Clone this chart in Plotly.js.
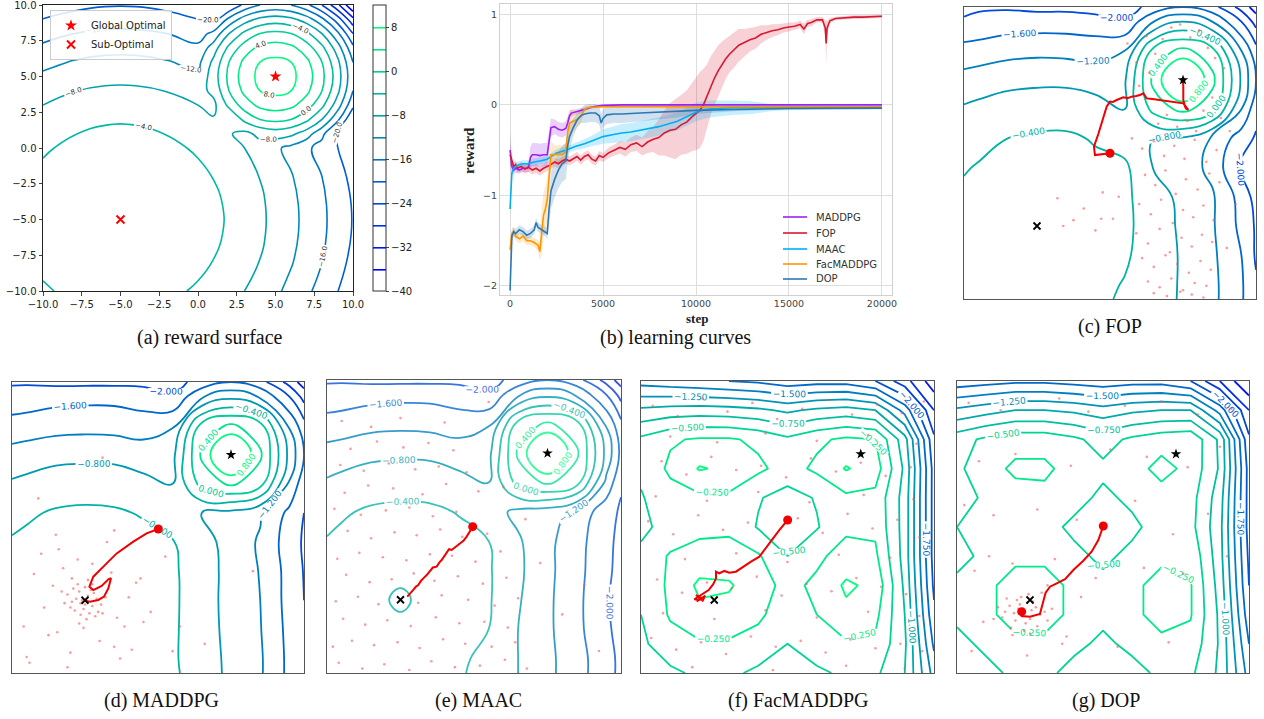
<!DOCTYPE html>
<html><head><meta charset="utf-8">
<script src="https://cdn.plot.ly/plotly-3.0.1.min.js"></script>
<style>html,body{margin:0;padding:0;background:#fff}#chart{width:1264px;height:719px}</style>
</head><body><div id="chart"></div>
<script>
// ---------------- (a) reward surface grid (rows bottom -> top) ----------------
const aGrid = [-10,-8,-6,-4,-2,0,1,2,3,4,5,6,7,8,9,10];
const aZ = [
 [-4.5,-3.1,-2.3,-2.3,-3.1,-4.5,-5.5,-6.7,-8,-9.5,-11.3,-13.1,-15.2,-17.5,-19.9,-22.5],
 [-3.1,-1.6,-0.9,-0.9,-1.6,-3.1,-4.1,-5.2,-6.6,-8.1,-9.8,-11.7,-13.8,-16,-18.5,-21.1],
 [-2.3,-0.9,-0.2,-0.2,-0.9,-2.3,-3.3,-4.5,-5.9,-7.4,-9.1,-11,-13.1,-15.3,-17.7,-20.3],
 [-2.3,-0.9,-0.2,-0.2,-0.9,-2.3,-3.3,-4.5,-5.9,-7.4,-9.1,-11,-13.1,-15.3,-17.7,-20.3],
 [-3.1,-1.6,-0.9,-0.9,-1.6,-3.1,-4.1,-5.2,-6.6,-8.1,-9.8,-11.7,-13.8,-16,-18.5,-21.1],
 [-4.5,-3.1,-2.3,-2.3,-3.1,-4.5,-5.5,-6.7,-8,-9.5,-11.3,-13.1,-15.2,-17.5,-19.9,-22.5],
 [-5.5,-4.1,-3.3,-3.3,-4.1,-5.5,-6.5,-7.7,-9,-7,-6,-7,-10,-15,-20.9,-23.5],
 [-6.7,-5.2,-4.5,-4.5,-5.2,-6.7,-7.7,-8,-3,0,1,0,-3,-8,-15,-24],
 [-8,-6.6,-5.9,-5.9,-6.6,-8,-9,-3,2,5,6,5,2,-3,-10,-19],
 [-9.5,-8.1,-7.4,-7.4,-8.1,-9.5,-7,0,5,8,9,8,5,0,-7,-16],
 [-11.3,-9.8,-9.1,-9.1,-9.8,-11.3,-6,1,6,9,10,9,6,1,-6,-15],
 [-13.1,-11.7,-11,-11,-11.7,-13.1,-7,0,5,8,9,8,5,0,-7,-16],
 [-15.2,-13.8,-13.1,-13.1,-13.8,-15.2,-10,-3,2,5,6,5,2,-3,-10,-19],
 [-17.5,-16,-15.3,-15.3,-16,-17.5,-15,-8,-3,0,1,0,-3,-8,-15,-24],
 [-19.9,-18.5,-17.7,-17.7,-18.5,-19.9,-20.9,-15,-10,-7,-6,-7,-10,-15,-22,-31],
 [-22.5,-21.1,-20.3,-20.3,-21.1,-22.5,-23.5,-24,-19,-16,-15,-16,-19,-24,-31,-40]
];
const optimaX = [5, -5];
const optimaY = [5, -5];

// ---------------- (b) learning curves ----------------
const fopStep = [0,100,200,300,400,600,800,1000,1200,1400,1600,1800,2000,2200,2400,2600,2800,3000,3200,3400,3600,3800,4000,4200,4400,4600,4800,5000,5300,5600,5900,6200,6500,6800,7100,7400,7700,8000,8300,8600,8900,9200,9500,9800,10000,10200,10400,10600,10800,11000,11200,11400,11600,11800,12000,12300,12600,12900,13200,13500,13800,14100,14400,14700,15000,15300,15600,15800,16000,16200,16500,16800,16950,17000,17050,17200,17500,18000,18500,19000,19500,20000];
const fopMean = [-0.55,-0.62,-0.68,-0.66,-0.70,-0.68,-0.71,-0.69,-0.72,-0.70,-0.73,-0.70,-0.68,-0.66,-0.63,-0.65,-0.62,-0.60,-0.62,-0.59,-0.57,-0.61,-0.57,-0.55,-0.60,-0.62,-0.56,-0.58,-0.53,-0.50,-0.47,-0.49,-0.44,-0.42,-0.46,-0.41,-0.38,-0.36,-0.31,-0.28,-0.27,-0.22,-0.19,-0.13,-0.10,-0.06,0.00,0.10,0.22,0.30,0.38,0.45,0.51,0.56,0.60,0.66,0.69,0.72,0.74,0.78,0.80,0.82,0.83,0.85,0.86,0.87,0.89,0.84,0.90,0.91,0.94,0.94,0.85,0.68,0.85,0.93,0.955,0.965,0.97,0.97,0.975,0.98];
const fopSd = [0.12,0.06,0.05,0.05,0.05,0.05,0.05,0.05,0.05,0.05,0.05,0.05,0.05,0.05,0.05,0.05,0.05,0.05,0.05,0.05,0.05,0.05,0.05,0.05,0.05,0.05,0.05,0.05,0.06,0.06,0.07,0.08,0.08,0.09,0.1,0.12,0.14,0.2,0.25,0.3,0.33,0.33,0.35,0.38,0.4,0.42,0.4,0.35,0.32,0.3,0.28,0.25,0.22,0.2,0.2,0.18,0.15,0.13,0.12,0.1,0.08,0.07,0.06,0.05,0.05,0.04,0.04,0.06,0.04,0.04,0.03,0.03,0.08,0.25,0.08,0.03,0.02,0.02,0.02,0.02,0.02,0.02];

const maddpgStep = [0,50,100,200,300,500,700,900,1000,1100,1200,1400,1600,1800,2000,2100,2200,2400,2600,2800,3000,3100,3200,3300,3500,3700,4000,4300,4600,5000,6000,8000,10000,12000,15000,20000];
const maddpgMean = [-0.5,-0.6,-0.68,-0.72,-0.7,-0.72,-0.7,-0.7,-0.68,-0.58,-0.55,-0.55,-0.56,-0.55,-0.55,-0.4,-0.25,-0.24,-0.27,-0.28,-0.26,-0.2,-0.12,-0.09,-0.08,-0.07,-0.05,-0.03,-0.015,-0.005,0,0,0,0,0,0];
const maddpgSd = [0.2,0.15,0.08,0.05,0.05,0.04,0.04,0.04,0.06,0.12,0.13,0.13,0.13,0.13,0.13,0.12,0.1,0.08,0.08,0.08,0.08,0.07,0.05,0.04,0.03,0.03,0.02,0.01,0.005,0,0,0,0,0,0,0];

const maacStep = [0,50,100,200,300,500,700,1000,1300,1600,2000,2500,3000,3500,4000,4500,5000,5500,6000,6500,7000,7500,8000,8500,9000,9500,10000,10500,11000,12000,13000,14000,15000,17000,20000];
const maacMean = [-1.15,-0.9,-0.75,-0.7,-0.68,-0.66,-0.65,-0.65,-0.63,-0.62,-0.6,-0.53,-0.5,-0.46,-0.43,-0.39,-0.35,-0.33,-0.31,-0.3,-0.28,-0.26,-0.24,-0.21,-0.18,-0.13,-0.08,-0.05,-0.04,-0.03,-0.03,-0.03,-0.03,-0.03,-0.03];
const maacSd = [0.05,0.05,0.04,0.04,0.04,0.04,0.04,0.04,0.04,0.04,0.04,0.04,0.04,0.04,0.05,0.06,0.08,0.09,0.1,0.1,0.1,0.1,0.1,0.1,0.1,0.1,0.1,0.1,0.09,0.08,0.07,0.04,0.03,0.02,0.02];

const facStep = [0,50,100,200,300,500,700,900,1100,1300,1500,1600,1700,1800,1900,2000,2100,2200,2400,2600,2800,3000,3100,3200,3400,3600,3800,4000,4200,4500,5000,6000,10000,15000,20000];
const facMean = [-1.6,-1.5,-1.42,-1.4,-1.45,-1.48,-1.45,-1.5,-1.5,-1.52,-1.55,-1.62,-1.4,-1.22,-1.15,-1.05,-0.8,-0.55,-0.55,-0.54,-0.55,-0.52,-0.3,-0.2,-0.18,-0.16,-0.13,-0.05,-0.03,-0.025,-0.02,-0.02,-0.02,-0.02,-0.02];
const facSd = [0.1,0.08,0.06,0.05,0.05,0.05,0.05,0.05,0.05,0.05,0.06,0.1,0.25,0.25,0.25,0.25,0.22,0.15,0.1,0.1,0.1,0.1,0.15,0.15,0.12,0.1,0.08,0.03,0.02,0.01,0.01,0.005,0.005,0.005,0.005];

const dopStep = [0,50,100,200,300,500,700,900,1100,1300,1400,1500,1700,1900,2000,2100,2200,2400,2600,2800,3000,3100,3200,3400,3600,3800,4000,4300,4600,4800,4900,5000,5200,5600,6000,7000,8000,9000,10000,12000,15000,20000];
const dopMean = [-2.05,-1.7,-1.45,-1.4,-1.42,-1.38,-1.4,-1.44,-1.42,-1.38,-1.3,-1.35,-1.38,-1.4,-1.42,-1.15,-0.95,-0.82,-0.72,-0.65,-0.62,-0.45,-0.35,-0.25,-0.17,-0.12,-0.1,-0.09,-0.09,-0.12,-0.2,-0.15,-0.11,-0.1,-0.1,-0.09,-0.08,-0.07,-0.06,-0.05,-0.04,-0.035];
const dopSd = [0.05,0.08,0.06,0.05,0.05,0.05,0.05,0.05,0.05,0.05,0.05,0.05,0.05,0.05,0.06,0.15,0.2,0.2,0.2,0.2,0.2,0.18,0.15,0.1,0.08,0.08,0.1,0.1,0.1,0.1,0.1,0.1,0.1,0.1,0.1,0.09,0.08,0.07,0.04,0.02,0.01,0.01];

const seriesNames = ['MADDPG','FOP','MAAC','FacMADDPG','DOP'];
const seriesColors = ['rgb(160,32,240)','rgb(215,25,50)','rgb(0,176,240)','rgb(255,150,0)','rgb(44,120,180)'];
const rewardTicks = [-2,-1,0,1];
const stepTicks = [0,5000,10000,15000,20000];

// ---------------- (c)-(g) learned value grids (rows top -> bottom) ----------------
const oddGrid = [-10,-9,-7,-5,-3,-1,1,3,5,7,9,10];
const evenGrid = [-10,-8,-6,-4,-2,0,2,4,6,8,10];
const cZ = [
 [-2.1,-2.05,-2.05,-2.1,-2.1,-2.15,-2.2,-1.85,-1.6,-1.85,-2.55,-3.0],
 [-1.95,-1.9,-1.82,-1.8,-1.8,-1.85,-1.95,-1.2,-0.8,-1.2,-2.0,-2.55],
 [-1.45,-1.42,-1.33,-1.3,-1.32,-1.35,-1.2,0.15,0.52,0.15,-1.2,-1.85],
 [-1.05,-1.0,-0.92,-0.88,-0.88,-0.95,-0.85,0.52,1.6,0.52,-0.85,-1.6],
 [-0.75,-0.7,-0.6,-0.58,-0.58,-0.65,-0.8,0.15,0.52,0.15,-1.2,-1.85],
 [-0.55,-0.48,-0.4,-0.35,-0.34,-0.43,-0.58,-0.8,-0.85,-1.25,-1.8,-2.05],
 [-0.42,-0.38,-0.3,-0.25,-0.25,-0.32,-0.32,-0.82,-1.0,-1.3,-2.1,-2.4],
 [-0.35,-0.32,-0.25,-0.18,-0.2,-0.26,-0.33,-0.6,-0.92,-1.15,-1.75,-2.15],
 [-0.3,-0.28,-0.2,-0.15,-0.18,-0.24,-0.32,-0.58,-0.88,-1.15,-1.7,-2.05],
 [-0.3,-0.28,-0.22,-0.18,-0.2,-0.26,-0.35,-0.58,-0.85,-1.12,-1.6,-2.05],
 [-0.32,-0.3,-0.25,-0.22,-0.24,-0.3,-0.42,-0.6,-0.85,-1.1,-1.55,-1.95],
 [-0.33,-0.31,-0.26,-0.24,-0.26,-0.32,-0.45,-0.62,-0.85,-1.1,-1.55,-1.95]
];
const dZ = [
 [-2.05,-2.05,-2.1,-2.1,-2.1,-2.1,-2.15,-1.85,-1.6,-1.85,-2.55,-3.0],
 [-1.85,-1.82,-1.75,-1.72,-1.72,-1.8,-1.95,-1.25,-0.91,-1.25,-2.0,-2.55],
 [-1.45,-1.42,-1.35,-1.33,-1.35,-1.4,-1.25,0.15,0.47,0.15,-1.25,-1.85],
 [-1.05,-1.0,-0.92,-0.9,-0.9,-0.98,-0.91,0.47,1.6,0.47,-0.91,-1.6],
 [-0.75,-0.7,-0.6,-0.58,-0.6,-0.7,-0.8,0.15,0.47,0.15,-1.25,-1.85],
 [-0.5,-0.45,-0.36,-0.33,-0.35,-0.43,-0.58,-0.8,-0.91,-1.15,-1.7,-2.0],
 [-0.37,-0.33,-0.25,-0.2,-0.22,-0.3,-0.38,-0.65,-0.95,-1.25,-1.8,-2.05],
 [-0.32,-0.29,-0.2,-0.14,-0.17,-0.27,-0.34,-0.62,-0.93,-1.22,-1.75,-2.02],
 [-0.3,-0.27,-0.17,-0.12,-0.16,-0.26,-0.33,-0.63,-0.93,-1.2,-1.75,-2.0],
 [-0.32,-0.29,-0.2,-0.15,-0.18,-0.27,-0.34,-0.62,-0.92,-1.18,-1.72,-1.98],
 [-0.36,-0.33,-0.25,-0.2,-0.22,-0.3,-0.35,-0.6,-0.9,-1.15,-1.7,-1.95],
 [-0.38,-0.35,-0.27,-0.22,-0.24,-0.32,-0.34,-0.58,-0.9,-1.15,-1.7,-1.95]
];
const eZ = [
 [-2.05,-2.05,-2.1,-2.1,-2.1,-2.1,-2.15,-1.85,-1.6,-1.85,-2.55,-3.0],
 [-1.85,-1.82,-1.75,-1.72,-1.72,-1.8,-1.95,-1.25,-0.91,-1.25,-2.0,-2.55],
 [-1.45,-1.42,-1.33,-1.3,-1.33,-1.4,-1.25,0.15,0.47,0.15,-1.25,-1.9],
 [-1.05,-1.0,-0.9,-0.88,-0.88,-0.98,-0.91,0.47,1.6,0.47,-0.91,-1.7],
 [-0.75,-0.68,-0.58,-0.55,-0.57,-0.68,-0.8,0.15,0.47,0.15,-1.3,-1.95],
 [-0.5,-0.44,-0.35,-0.32,-0.33,-0.42,-0.62,-0.9,-1.0,-1.3,-1.85,-2.05],
 [-0.38,-0.33,-0.26,-0.22,-0.24,-0.3,-0.4,-0.75,-1.1,-1.45,-1.9,-2.1],
 [-0.33,-0.28,-0.22,-0.25,-0.2,-0.27,-0.36,-0.72,-1.1,-1.48,-1.9,-2.15],
 [-0.3,-0.26,-0.24,-0.5,-0.22,-0.28,-0.36,-0.76,-1.12,-1.5,-1.95,-2.2],
 [-0.3,-0.27,-0.22,-0.26,-0.22,-0.3,-0.4,-0.8,-1.12,-1.5,-1.92,-2.15],
 [-0.33,-0.3,-0.26,-0.25,-0.27,-0.35,-0.48,-0.8,-1.1,-1.45,-1.85,-2.1],
 [-0.35,-0.32,-0.28,-0.27,-0.3,-0.37,-0.5,-0.8,-1.1,-1.45,-1.85,-2.1]
];
const fZ = [
 [-1.6,-1.65,-1.7,-1.75,-1.8,-1.9,-1.85,-1.85,-2.0,-2.4,-2.9],
 [-0.95,-0.9,-0.88,-0.9,-0.95,-1.05,-0.95,-0.9,-1.0,-1.6,-2.5],
 [-0.45,-0.28,-0.22,-0.22,-0.3,-0.45,-0.3,-0.2,-0.25,-0.9,-2.2],
 [-0.45,-0.2,0.02,-0.05,-0.2,-0.35,-0.2,0.02,-0.12,-0.8,-2.1],
 [-0.52,-0.35,-0.3,-0.3,-0.48,-0.6,-0.48,-0.3,-0.32,-0.85,-2.1],
 [-0.55,-0.42,-0.32,-0.3,-0.52,-0.68,-0.52,-0.3,-0.3,-0.85,-2.1],
 [-0.45,-0.22,-0.15,-0.15,-0.22,-0.5,-0.3,-0.15,-0.2,-0.85,-2.1],
 [-0.45,-0.2,0.05,0.03,-0.15,-0.32,-0.2,0.04,-0.06,-0.8,-2.05],
 [-0.5,-0.22,-0.06,-0.1,-0.2,-0.4,-0.25,-0.06,-0.18,-0.75,-1.95],
 [-0.55,-0.35,-0.28,-0.28,-0.35,-0.5,-0.35,-0.28,-0.3,-0.7,-1.8],
 [-0.62,-0.55,-0.45,-0.45,-0.55,-0.62,-0.55,-0.45,-0.45,-0.75,-1.6]
];
const gZ = [
 [-1.9,-1.85,-1.8,-1.8,-1.85,-1.9,-1.85,-1.85,-2.0,-2.5,-3.0],
 [-1.2,-1.1,-1.0,-1.0,-1.05,-1.15,-1.05,-1.0,-1.0,-1.6,-2.5],
 [-0.6,-0.45,-0.35,-0.35,-0.45,-0.6,-0.45,-0.35,-0.3,-0.8,-2.2],
 [-0.55,-0.35,-0.2,-0.2,-0.35,-0.45,-0.35,-0.17,-0.32,-0.78,-2.1],
 [-0.55,-0.48,-0.35,-0.32,-0.42,-0.55,-0.45,-0.35,-0.4,-0.88,-2.1],
 [-0.5,-0.45,-0.38,-0.42,-0.55,-0.7,-0.55,-0.4,-0.42,-0.92,-2.1],
 [-0.58,-0.44,-0.3,-0.3,-0.44,-0.55,-0.44,-0.3,-0.3,-0.9,-2.05],
 [-0.44,-0.3,-0.16,-0.16,-0.3,-0.44,-0.3,-0.17,-0.23,-0.85,-2.0],
 [-0.44,-0.3,-0.16,-0.16,-0.3,-0.44,-0.3,-0.17,-0.23,-0.8,-1.9],
 [-0.58,-0.44,-0.3,-0.3,-0.44,-0.55,-0.44,-0.3,-0.33,-0.78,-1.75],
 [-0.72,-0.58,-0.44,-0.44,-0.58,-0.65,-0.58,-0.45,-0.45,-0.8,-1.6]
];

// trajectories (red paths)
const cTrajX = [0.0,-0.5,-1.03,-1.1,-1.0,-0.91,-0.8,-0.68,-0.55,-0.46,-0.3,-0.23,0.0,0.2,0.46,0.7,0.91,1.2,1.48,1.8,2.05,2.28,2.51,2.9,3.42,3.9,4.34,4.7,5.02,5.37,5.2,5.14,5.02,5.02,5.0,5.1,4.9,5.05,4.95];
const cTrajY = [-0.02,-0.1,-0.14,0.43,0.7,0.89,1.3,1.69,2.1,2.49,2.9,3.17,3.52,3.5,3.63,3.7,3.81,3.76,3.86,3.9,3.97,4.09,3.74,3.7,3.63,3.6,3.52,3.45,3.4,2.95,3.05,3.17,3.63,4.54,5.0,5.1,5.05,4.9,5.1];
const dTrajX = [0.02,-0.78,-1.69,-2.83,-3.74,-4.43,-4.7,-4.43,-3.86,-3.4,-3.22,-3.4,-3.7,-4.09,-4.66,-4.98];
const dTrajY = [-0.1,-0.4,-0.97,-1.78,-2.69,-3.38,-4.07,-4.3,-4.02,-3.56,-3.49,-4.18,-4.75,-4.98,-5.1,-5.03];
const eTrajX = [-0.09,-0.3,-0.5,-0.7,-0.95,-1.2,-1.52,-1.7,-1.86,-2.0,-2.2,-2.35,-2.54,-2.8,-2.99,-3.2,-3.45,-3.6,-3.79,-3.95,-4.13,-4.3,-4.54];
const eTrajY = [-0.01,-0.4,-0.69,-0.95,-1.15,-1.4,-1.6,-1.55,-1.79,-2.05,-2.29,-2.45,-2.74,-2.8,-3.08,-3.3,-3.54,-3.7,-3.99,-4.1,-4.33,-4.5,-4.79];
const fTrajX = [0.01,-0.56,-1.24,-1.92,-2.49,-3.06,-3.52,-3.97,-4.31,-4.65,-4.88,-4.88,-5.06,-5.38,-5.79,-6.13,-6.36,-6.02,-5.68,-5.79,-6.25,-5.9,-6.2,-5.6];
const fTrajY = [0.48,-0.21,-1.12,-2.03,-2.37,-2.72,-3.06,-3.13,-3.01,-3.17,-3.06,-3.52,-3.9,-4.32,-4.59,-4.77,-4.95,-5.0,-4.82,-5.05,-4.66,-4.86,-5.1,-4.7];
const gTrajX = [0.02,-0.32,-0.78,-1.35,-2.03,-2.6,-3.17,-3.63,-3.93,-4.13,-4.32,-5.0,-5.57,-5.57];
const gTrajY = [0.07,-0.89,-1.69,-2.31,-2.95,-3.58,-3.86,-4.09,-4.5,-5.23,-5.96,-6.14,-6.1,-5.8];

// sampled actions (small red dots)
const cDotX = [1.2,1.8,2.5,3.1,3.6,4.2,4.8,5.5,6.1,6.7,7.2,7.8,2.0,2.7,3.3,3.9,4.6,5.3,5.9,6.4,7.0,7.6,1.5,2.2,3.0,3.7,4.4,5.1,5.8,6.6,7.3,2.4,3.1,3.8,4.5,5.2,6.0,6.8,7.5,2.0,2.8,3.5,4.3,5.0,5.7,6.4,7.1,1.8,2.6,3.4,4.1,4.9,5.6,6.3,7.0,2.2,3.0,3.8,4.6,5.4,6.2,6.9,2.6,3.4,4.2,5.0,5.8,6.6,3.0,3.9,4.8,5.6,6.4,-3.6,-3.2,-2.5,-1.8,-1.0,-0.6,0.2,0.6,-0.5,8.2,8.6,8.0];
const cDotY = [7.5,6.2,8.0,6.8,7.8,8.6,8.8,7.9,8.4,7.2,6.5,5.8,4.6,5.5,2.0,2.6,1.8,2.2,1.5,2.9,3.8,2.4,1.0,0.3,0.8,-0.2,0.5,-0.4,0.9,-0.6,0.2,-1.5,-2.2,-1.2,-2.8,-1.8,-2.5,-1.4,-2.0,-3.5,-4.2,-3.2,-4.8,-3.9,-4.4,-3.6,-4.6,-5.5,-6.2,-5.2,-6.8,-5.8,-6.4,-5.6,-6.1,-7.2,-7.8,-7.0,-7.6,-8.2,-7.4,-8.0,-8.8,-9.2,-8.6,-9.4,-8.9,-9.1,-9.6,-9.8,-9.5,-9.7,-9.9,-3.1,-5.0,-4.6,-3.8,-5.3,-4.5,-4.5,-3.0,-2.7,1.5,-3.5,-6.5];
const dDotX = [-5.3,-4.8,-5.6,-4.5,-5.1,-4.2,-5.9,-5.4,-4.7,-5.0,-4.4,-5.7,-6.2,-4.9,-5.2,-3.9,-5.5,-4.6,-6.0,-5.3,-4.1,-5.8,-4.3,-5.0,-6.4,-4.8,-3.6,-5.4,-4.5,-6.6,-5.1,-3.8,-5.9,-6.5,-7.2,-3.2,-2.8,-7.8,-2.0,-8.5,-6.9,-1.5,-4.0,-5.5,-3.0,-8.0,-2.3,-6.0,-7.5,-1.0,-3.5,-9.0,-0.5,-4.5,-6.8,-2.6,0.5,1.5,-1.8,-7.0,-9.2,-3.0,-8.8,-6.2,-1.2,1.0,3.2,6.5,-8.2,-3.8];
const dDotY = [-5.2,-4.7,-4.9,-5.4,-5.6,-4.9,-5.1,-4.4,-5.9,-4.1,-4.5,-5.7,-4.6,-6.3,-5.0,-5.3,-3.9,-4.3,-5.5,-6.0,-5.8,-4.2,-6.1,-5.3,-5.2,-3.6,-4.8,-6.6,-3.9,-4.4,-6.9,-5.9,-3.5,-2.8,-4.0,-3.1,-6.2,-5.5,-4.8,-3.2,-7.2,-3.8,-7.8,-2.2,-8.2,-1.8,-6.8,-8.6,-7.4,-6.5,-1.0,-8.9,-5.8,-2.5,-1.5,-9.0,-2.0,-6.8,-8.4,-0.5,-6.8,-0.2,-9.3,-9.6,-3.5,-8.5,-8.0,-3.0,2.0,4.8];
const eDotX = [-9.2,-7.6,-6.1,-4.4,-2.9,-1.3,0.4,2.1,3.6,-9.6,-8.3,-6.8,-5.2,-3.7,-2.1,-0.6,1.2,2.8,-8.9,-7.4,-5.9,-4.3,-2.6,-1.0,0.7,2.3,-9.4,-7.9,-6.5,-3.8,-2.2,-0.4,1.4,3.0,-8.7,-7.1,-5.6,-4.1,-2.7,-1.1,0.6,2.2,-9.3,-7.8,-6.2,-4.6,-3.0,-1.5,0.1,1.8,-8.6,-7.0,-5.4,-3.9,-2.3,-0.8,0.9,-9.5,-7.7,-6.0,-4.4,-2.8,-1.2,-8.8,-7.2,-5.5,-3.5,-1.9,0.3,2.0,-9.1,-7.5,-5.8,-4.0,-2.4,-0.5,-8.4,-6.6,-4.8,-3.1,-1.4,-9.0,-7.0,-5.0,-2.0,1.0,4.5,6.0,7.5,8.5,3.5];
const eDotY = [-9.3,-9.7,-9.4,-9.8,-9.2,-9.6,-9.5,-9.1,-9.7,-8.2,-7.8,-8.1,-7.9,-8.3,-7.7,-8.0,-8.2,-7.9,-6.3,-6.7,-6.4,-6.8,-6.2,-6.6,-6.5,-6.9,-5.1,-4.8,-5.3,-5.2,-4.7,-5.0,-5.4,-4.9,-3.3,-3.8,-3.6,-3.2,-3.7,-3.4,-3.9,-3.5,-2.2,-1.8,-2.1,-2.3,-1.9,-2.0,-2.4,-1.7,-0.3,-0.8,-0.4,-0.6,-0.2,-0.7,-0.5,1.2,0.8,1.1,1.3,0.7,1.0,2.3,2.8,2.6,2.2,2.9,2.4,2.7,4.2,3.8,4.3,3.9,4.1,3.7,5.3,5.8,5.4,5.7,5.2,7.2,6.8,7.4,7.1,8.5,-2.5,-6.0,-4.0,-8.5,0.5];
const fDotX = [-9.2,-7.5,-5.8,-4.1,-2.4,-0.7,1.0,2.7,4.4,6.1,7.8,9.3,-8.6,-6.9,-5.2,-3.5,-1.8,-0.1,1.6,3.3,5.0,6.7,8.4,-9.5,-7.8,-6.1,-4.4,-2.7,-1.0,0.7,2.4,4.1,5.8,7.5,9.0,-8.9,-7.2,-5.5,-3.8,-2.1,-0.4,1.3,3.0,4.7,6.4,8.1,-9.3,-7.6,-5.9,-4.2,-2.5,-0.8,0.9,2.6,4.3,6.0,7.7,9.2,-8.0,-4.8,-1.5,2.0,5.5,8.8,-9.0,-5.5,-2.0,1.5,5.2,8.6,-7.0,-3.5,0.0,3.5,7.0,-8.5,-5.0,-1.5,2.0,5.5,9.0,-6.5,-1.0,4.0,8.0];
const fDotY = [8.3,7.6,8.8,7.9,8.5,7.4,8.1,8.7,7.7,8.4,7.8,8.6,4.5,3.6,4.8,3.9,4.2,3.4,4.7,3.8,4.4,3.5,4.1,0.4,-0.5,0.8,-0.2,0.3,-0.8,0.6,-0.4,0.9,-0.1,0.5,-0.7,-3.6,-4.5,-3.8,-4.2,-3.4,-4.7,-3.9,-4.4,-3.5,-4.1,-4.6,-7.6,-8.4,-7.9,-8.7,-7.5,-8.2,-7.8,-8.6,-7.7,-8.3,-8.0,-8.5,6.2,5.8,6.4,5.9,6.3,5.7,2.1,1.8,2.4,1.7,2.2,1.9,-2.2,-1.8,-2.4,-1.9,-2.1,-5.9,-6.3,-5.7,-6.2,-5.8,-6.1,-9.6,-9.8,-9.5,-9.7];
const gDotX = [-5.8,-5.2,-6.1,-4.9,-5.5,-6.4,-5.0,-4.6,-5.9,-6.7,-5.3,-4.3,-6.0,-5.6,-4.8,-6.9,-5.1,-4.0,-6.3,-5.7,-4.5,-7.2,-5.4,-3.8,-6.6,-5.0,-4.2,-6.2,-3.5,-7.5,-9.2,-7.0,-3.0,-1.0,1.5,4.0,6.5,8.8,-8.5,-6.0,-2.2,0.5,3.0,5.8,8.0,-9.5,-7.5,-4.5,-1.8,2.2,4.8,7.2,-8.8,-6.2,-3.3,-0.5,2.8,5.5,8.5,-9.0,-5.2,-2.5,1.0,4.5,7.8,-7.8,-3.8,-1.5,-8.2,-2.8];
const gDotY = [-5.6,-5.2,-5.9,-5.7,-6.1,-5.4,-6.3,-5.5,-5.0,-5.8,-6.6,-6.0,-6.4,-4.8,-5.1,-6.2,-4.6,-5.8,-6.9,-5.3,-6.8,-5.5,-7.1,-6.4,-4.9,-7.3,-4.5,-7.4,-5.6,-6.3,8.5,8.0,8.8,7.9,8.3,8.6,7.7,8.1,4.5,5.0,4.2,5.3,4.8,4.1,5.5,1.5,0.8,1.2,0.5,1.8,-0.5,0.9,-3.0,-2.5,-2.2,-3.5,-2.8,-3.2,-2.0,-8.5,-8.8,-7.5,-8.2,-7.9,-8.6,-2.0,-4.0,-4.8,-6.5,-8.0];

const captions = ['(a) reward surface','(b) learning curves','(c) FOP','(d) MADDPG','(e) MAAC','(f) FacMADDPG','(g) DOP'];

// ---------------- drawing ----------------
const W = 1264, H = 719;
const winter = [[0,'rgb(0,0,255)'],[1,'rgb(0,255,128)']];
const FONT = 'DejaVu Sans';
const px = (a,b) => [a/W, b/W];
const py = (top,bottom) => [1-bottom/H, 1-top/H];
const rev = arr => arr.slice().reverse();

const data = [];

// (a)
data.push({
  type:'contour', x:aGrid, y:aGrid, z:aZ, xaxis:'x', yaxis:'y',
  colorscale:winter, zmin:-40, zmax:12, zauto:false,
  contours:{coloring:'lines', start:-36, end:8, size:4, showlabels:true, labelformat:'.1f',
            labelfont:{size:7, family:FONT, color:'#333'}},
  line:{width:1.6, smoothing:1.3},
  showscale:true,
  colorbar:{x:373/W, xanchor:'left', y:1-148/H, yanchor:'middle', len:286/H, lenmode:'fraction',
            thickness:13, thicknessmode:'pixels', outlinecolor:'#333', outlinewidth:1,
            tickvals:[-40,-32,-24,-16,-8,0,8], ticktext:['\u221240','\u221232','\u221224','\u221216','\u22128','0','8'],
            ticks:'outside', ticklen:3, tickfont:{size:10, family:FONT, color:'#222'}, xpad:0, ypad:0},
  hoverinfo:'skip', showlegend:false
});
data.push({type:'scatter', mode:'markers', x:[optimaX[0]], y:[optimaY[0]], xaxis:'x', yaxis:'y',
  name:'Global Optimal', marker:{symbol:'star', size:9, color:'red'}, legend:'legend', legendrank:1});
data.push({type:'scatter', mode:'markers', x:[optimaX[1]], y:[optimaY[1]], xaxis:'x', yaxis:'y',
  name:'Sub-Optimal', marker:{symbol:'x-thin', size:8, color:'red', line:{color:'red', width:2}}, legend:'legend', legendrank:2});

// (b)
const curveSets = [
  {x:maddpgStep, m:maddpgMean, s:maddpgSd, f:'rgba(160,32,240,0.22)'},
  {x:fopStep, m:fopMean, s:fopSd, f:'rgba(215,25,50,0.2)'},
  {x:maacStep, m:maacMean, s:maacSd, f:'rgba(0,176,240,0.22)'},
  {x:facStep, m:facMean, s:facSd, f:'rgba(255,150,0,0.2)'},
  {x:dopStep, m:dopMean, s:dopSd, f:'rgba(44,120,180,0.22)'}
];
curveSets.forEach((cs,i) => {
  data.push({type:'scatter', mode:'lines', x:cs.x, y:cs.m.map((v,k)=>v-cs.s[k]), xaxis:'x2', yaxis:'y2',
    line:{width:0, color:seriesColors[i]}, showlegend:false, hoverinfo:'skip'});
  data.push({type:'scatter', mode:'lines', x:cs.x, y:cs.m.map((v,k)=>v+cs.s[k]), xaxis:'x2', yaxis:'y2',
    line:{width:0, color:seriesColors[i]}, fill:'tonexty', fillcolor:cs.f, showlegend:false, hoverinfo:'skip'});
});
curveSets.forEach((cs,i) => {
  data.push({type:'scatter', mode:'lines', x:cs.x, y:cs.m, xaxis:'x2', yaxis:'y2', name:seriesNames[i],
    line:{width:1.6, color:seriesColors[i]}, showlegend:false});
});

// (c)-(g)
const panels = [
  {ax:'3', g:oddGrid, z:cZ, start:-3.2, end:0.8, size:0.4, zmin:-3.2, zmax:0.8, sm:1.3, op:1, tx:cTrajX, ty:cTrajY, dx:cDotX, dy:cDotY, endDot:false},
  {ax:'4', g:oddGrid, z:dZ, start:-3.2, end:0.8, size:0.4, zmin:-3.2, zmax:0.8, sm:1.3, op:1, tx:dTrajX, ty:dTrajY, dx:dDotX, dy:dDotY, endDot:false},
  {ax:'5', g:oddGrid, z:eZ, start:-3.2, end:0.8, size:0.4, zmin:-3.2, zmax:0.8, sm:1.3, op:0.78, tx:eTrajX, ty:eTrajY, dx:eDotX, dy:eDotY, endDot:false},
  {ax:'6', g:evenGrid, z:fZ, start:-3.0, end:0.0, size:0.25, zmin:-3.0, zmax:0.0, sm:0, op:1, tx:fTrajX, ty:fTrajY, dx:fDotX, dy:fDotY, endDot:false},
  {ax:'7', g:evenGrid, z:gZ, start:-3.0, end:0.0, size:0.25, zmin:-3.0, zmax:0.0, sm:0, op:1, tx:gTrajX, ty:gTrajY, dx:gDotX, dy:gDotY, endDot:true}
];
panels.forEach(p => {
  const xa = 'x'+p.ax, ya = 'y'+p.ax;
  data.push({type:'contour', x:p.g, y:rev(p.g), z:p.z, xaxis:xa, yaxis:ya,
    colorscale:winter, zmin:p.zmin, zmax:p.zmax, zauto:false, opacity:p.op,
    contours:{coloring:'lines', start:p.start, end:p.end, size:p.size, showlabels:true, labelformat:'.3f',
              labelfont:{size:9, family:FONT}},
    line:{width:1.8, smoothing:p.sm}, showscale:false, hoverinfo:'skip', showlegend:false});
  data.push({type:'scatter', mode:'markers', x:p.dx, y:p.dy, xaxis:xa, yaxis:ya,
    marker:{size:2.6, color:'rgba(245,90,90,0.6)'}, showlegend:false, hoverinfo:'skip'});
  data.push({type:'scatter', mode:'lines', x:p.tx, y:p.ty, xaxis:xa, yaxis:ya,
    line:{width:2, color:'rgb(240,0,0)'}, showlegend:false, hoverinfo:'skip'});
  const sx = [p.tx[0]], sy = [p.ty[0]];
  if (p.endDot) { sx.push(p.tx[p.tx.length-1]); sy.push(p.ty[p.ty.length-1]); }
  data.push({type:'scatter', mode:'markers', x:sx, y:sy, xaxis:xa, yaxis:ya,
    marker:{size:9, color:'rgb(240,0,0)'}, showlegend:false, hoverinfo:'skip'});
  data.push({type:'scatter', mode:'markers', x:[optimaX[0]], y:[optimaY[0]], xaxis:xa, yaxis:ya,
    marker:{symbol:'star', size:8, color:'black'}, showlegend:false, hoverinfo:'skip'});
  data.push({type:'scatter', mode:'markers', x:[optimaX[1]], y:[optimaY[1]], xaxis:xa, yaxis:ya,
    marker:{symbol:'x-thin', size:7, color:'black', line:{color:'black', width:1.8}}, showlegend:false, hoverinfo:'skip'});
});

const tickVals = [-10,-7.5,-5,-2.5,0,2.5,5,7.5,10];
const layout = {
  width:W, height:H, margin:{l:0,r:0,t:0,b:0}, paper_bgcolor:'#fff', plot_bgcolor:'#fff',
  font:{family:FONT, size:10, color:'#222'},
  xaxis:{domain:px(43,353), range:[-10,10], tickvals:tickVals, tickformat:'.1f', ticks:'outside', ticklen:3.5,
         showline:true, mirror:true, linecolor:'#222', linewidth:1, showgrid:false, zeroline:false, anchor:'y',
         ticklabeloverflow:'allow', tickfont:{size:10, family:FONT, color:'#222'}},
  yaxis:{domain:py(5,291), range:[-10,10], tickvals:tickVals, tickformat:'.1f', ticks:'outside', ticklen:3.5,
         showline:true, mirror:true, linecolor:'#222', linewidth:1, showgrid:false, zeroline:false, anchor:'x',
         ticklabeloverflow:'allow', tickfont:{size:10, family:FONT, color:'#222'}},
  xaxis2:{domain:px(500,892), range:[-540,20540], tickvals:stepTicks, ticktext:stepTicks.map(String), ticks:'', showgrid:true, gridcolor:'#dedede', gridwidth:1,
          showline:true, mirror:true, linecolor:'#d0d0d0', zeroline:false, anchor:'y2', tickfont:{size:9.5, color:'#444', family:FONT}},
  yaxis2:{domain:py(4,295), range:[-2.1,1.115], tickvals:rewardTicks, ticktext:['\u22122','\u22121','0','1'], ticks:'', showgrid:true,
          gridcolor:'#dedede', gridwidth:1, showline:true, mirror:true, linecolor:'#d0d0d0', zeroline:false, anchor:'x2',
          tickfont:{size:9.5, color:'#444', family:FONT}},
  legend:{x:50/W, y:1-10/H, xanchor:'left', yanchor:'top', bgcolor:'rgba(255,255,255,0.85)', bordercolor:'#ccc', borderwidth:1,
          font:{size:10, family:FONT, color:'#222'}, itemwidth:30, tracegroupgap:0, traceorder:'normal'},
  shapes:[],
  annotations:[]
};
const boxes = {3:[964,1256,7,299], 4:[12,304,382,673], 5:[327,621,380,673], 6:[641,934,381,673], 7:[957,1249,381,673]};
Object.keys(boxes).forEach(k => {
  const b = boxes[k];
  layout['xaxis'+k] = {domain:px(b[0],b[1]), range:[-10,10], showticklabels:false, ticks:'', showgrid:false, zeroline:false,
                       showline:true, mirror:true, linecolor:'#555', linewidth:1, anchor:'y'+k};
  layout['yaxis'+k] = {domain:py(b[2],b[3]), range:[-10,10], showticklabels:false, ticks:'', showgrid:false, zeroline:false,
                       showline:true, mirror:true, linecolor:'#555', linewidth:1, anchor:'x'+k};
});
// legend of (b), drawn in place
const legRows = [217,233,249,264,279];
seriesNames.forEach((n,i) => {
  layout.shapes.push({type:'line', xref:'paper', yref:'paper', x0:783/W, x1:807/W, y0:1-legRows[i]/H, y1:1-legRows[i]/H,
    line:{color:seriesColors[i], width:1.6}});
  layout.annotations.push({text:n, xref:'paper', yref:'paper', x:814/W, y:1-legRows[i]/H, xanchor:'left', yanchor:'middle',
    showarrow:false, font:{size:10, family:FONT, color:'#333'}});
});
const capPos = [[210,337],[675,337],[1110,327],[161,700],[478,700],[798,700],[1106,700]];
captions.forEach((t,i) => layout.annotations.push({text:t, xref:'paper', yref:'paper', x:capPos[i][0]/W, y:1-capPos[i][1]/H,
  xanchor:'center', yanchor:'middle', showarrow:false, font:{family:'Liberation Serif', size:20, color:'#111'}}));
layout.annotations.push({text:'<b>reward</b>', xref:'paper', yref:'paper', x:469/W, y:1-151/H, textangle:-90, showarrow:false,
  xanchor:'center', yanchor:'middle', font:{family:'Liberation Serif', size:15, color:'#222'}});
layout.annotations.push({text:'<b>step</b>', xref:'paper', yref:'paper', x:697/W, y:1-318/H, showarrow:false,
  xanchor:'center', yanchor:'middle', font:{family:'Liberation Serif', size:13, color:'#222'}});

Plotly.newPlot('chart', data, layout, {staticPlot:true});
</script></body></html>
